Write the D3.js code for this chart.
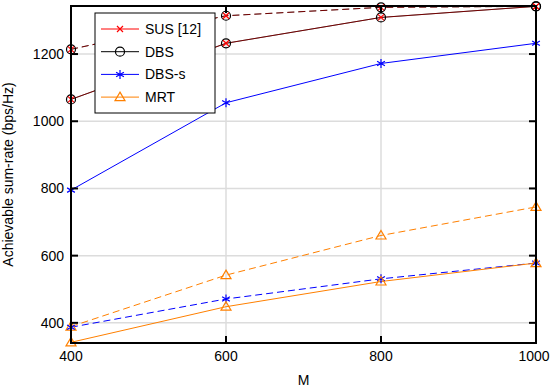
<!DOCTYPE html>
<html>
<head>
<meta charset="utf-8">
<script src="https://cdn.jsdelivr.net/npm/d3@7"></script>
<style>
  body { margin: 0; background: #fff; }
  svg { font-family: "Liberation Sans", Arial, sans-serif; }
</style>
</head>
<body>
<div id="chart"></div>
<script>
// x values (M)
const mValues = [400, 600, 800, 1000];
const xTicks = [400, 600, 800, 1000];
const yTicks = [400, 600, 800, 1000, 1200];

// solid curves
const susSolid = [1065, 1232, 1309, 1342];
const dbsSolid = [1065, 1232, 1309, 1342];
const dbssSolid = [795, 1055, 1172, 1232];
const mrtSolid = [342, 448, 523, 578];

// dashed curves
const susDashed = [1214, 1314, 1339, 1342];
const dbsDashed = [1214, 1314, 1339, 1342];
const dbssDashed = [387, 471, 531, 578];
const mrtDashed = [389, 542, 660, 745];

const legendNames = ['SUS [12]', 'DBS', 'DBS-s', 'MRT'];

const width = 550, height = 388;
const margin = { top: 6, right: 14, bottom: 45, left: 71 };

const svg = d3.select('#chart').append('svg')
    .attr('width', width)
    .attr('height', height);

const x = d3.scaleLinear()
    .domain([400, 1000])
    .range([margin.left, width - margin.right]);

const y = d3.scaleLinear()
    .domain([340, 1343])
    .range([height - margin.bottom, margin.top]);

const red = '#ff0000', blue = '#0000ff', orange = '#ff8000';

// grid
svg.append('g').selectAll('line')
    .data(xTicks.slice(1, -1))
    .enter().append('line')
    .attr('x1', d => x(d)).attr('x2', d => x(d))
    .attr('y1', margin.top).attr('y2', height - margin.bottom)
    .attr('stroke', '#dcdcdc').attr('stroke-width', 1.5);

svg.append('g').selectAll('line')
    .data(yTicks)
    .enter().append('line')
    .attr('x1', margin.left).attr('x2', width - margin.right)
    .attr('y1', d => y(d)).attr('y2', d => y(d))
    .attr('stroke', '#dcdcdc').attr('stroke-width', 1.5);

// markers
function drawMarker(g, type, cx, cy, color) {
    if (type === 'x') {
        const s = 3;
        g.append('path')
            .attr('d', `M${cx - s},${cy - s}L${cx + s},${cy + s}M${cx - s},${cy + s}L${cx + s},${cy - s}`)
            .attr('stroke', color).attr('stroke-width', 1.2).attr('fill', 'none');
    } else if (type === 'o') {
        g.append('circle')
            .attr('cx', cx).attr('cy', cy).attr('r', 4.5)
            .attr('stroke', color).attr('stroke-width', 1.2).attr('fill', 'none');
    } else if (type === '*') {
        const s = 4.5;
        let d = '';
        for (let a = 0; a < 3; a++) {
            const ang = Math.PI / 2 + a * Math.PI / 3;
            d += `M${cx - s * Math.cos(ang)},${cy - s * Math.sin(ang)}L${cx + s * Math.cos(ang)},${cy + s * Math.sin(ang)}`;
        }
        g.append('path').attr('d', d)
            .attr('stroke', color).attr('stroke-width', 1.2).attr('fill', 'none');
    } else if (type === '^') {
        const s = 5;
        g.append('path')
            .attr('d', `M${cx},${cy - s}L${cx + s},${cy + s * 0.7}L${cx - s},${cy + s * 0.7}Z`)
            .attr('stroke', color).attr('stroke-width', 1.2).attr('fill', 'none');
    }
}

const line = d3.line()
    .x((d, i) => x(mValues[i]))
    .y(d => y(d));

const series = [
    { data: mrtDashed, color: orange, dash: '7,4', marker: '^', opacity: 1 },
    { data: dbssDashed, color: blue, dash: '7,4', marker: '*', opacity: 1 },
    { data: mrtSolid, color: orange, dash: null, marker: '^', opacity: 1 },
    { data: dbssSolid, color: blue, dash: null, marker: '*', opacity: 1 },
    { data: dbsDashed, color: '#000', dash: '7,4', marker: 'o', opacity: 1 },
    { data: susDashed, color: red, dash: '7,4', marker: 'x', opacity: 0.45 },
    { data: dbsSolid, color: '#000', dash: null, marker: 'o', opacity: 1 },
    { data: susSolid, color: red, dash: null, marker: 'x', opacity: 0.45 }
];

const plot = svg.append('g');
series.forEach(s => {
    plot.append('path')
        .datum(s.data)
        .attr('d', line)
        .attr('fill', 'none')
        .attr('stroke', s.color)
        .attr('stroke-opacity', s.opacity)
        .attr('stroke-width', 1)
        .attr('stroke-dasharray', s.dash);
});
series.forEach(s => {
    s.data.forEach((v, i) => drawMarker(plot, s.marker, x(mValues[i]), y(v), s.color));
});

// frame + inward ticks
const x0 = margin.left, x1 = width - margin.right;
const y0 = margin.top, y1 = height - margin.bottom;
const tickLen = 7;
const frame = svg.append('g').attr('stroke', '#000').attr('stroke-width', 2);
frame.append('rect')
    .attr('x', x0).attr('y', y0)
    .attr('width', x1 - x0).attr('height', y1 - y0)
    .attr('fill', 'none');
yTicks.forEach(v => {
    frame.append('line').attr('x1', x0).attr('x2', x0 + tickLen).attr('y1', y(v)).attr('y2', y(v));
    frame.append('line').attr('x1', x1).attr('x2', x1 - tickLen).attr('y1', y(v)).attr('y2', y(v));
});
xTicks.forEach(v => {
    frame.append('line').attr('x1', x(v)).attr('x2', x(v)).attr('y1', y1).attr('y2', y1 - tickLen);
    frame.append('line').attr('x1', x(v)).attr('x2', x(v)).attr('y1', y0).attr('y2', y0 + tickLen);
});

// tick labels
svg.append('g').selectAll('text')
    .data(yTicks)
    .enter().append('text')
    .attr('x', x0 - 7)
    .attr('y', d => y(d))
    .attr('dy', '0.35em')
    .attr('text-anchor', 'end')
    .attr('font-size', 14)
    .text(d => d);

svg.append('g').selectAll('text')
    .data(xTicks)
    .enter().append('text')
    .attr('x', d => Math.min(x(d), width - 16))
    .attr('y', y1 + 18)
    .attr('text-anchor', 'middle')
    .attr('font-size', 14)
    .text(d => d);

// axis labels
svg.append('text')
    .attr('x', (x0 + x1) / 2)
    .attr('y', 385)
    .attr('text-anchor', 'middle')
    .attr('font-size', 14)
    .text('M');

svg.append('text')
    .attr('transform', `translate(13,${(y0 + y1) / 2}) rotate(-90)`)
    .attr('text-anchor', 'middle')
    .attr('font-size', 14)
    .text('Achievable sum-rate (bps/Hz)');

// legend
const legendColors = [red, '#000', blue, orange];
const legendMarkers = ['x', 'o', '*', '^'];
const legend = svg.append('g');
legend.append('rect')
    .attr('x', 95).attr('y', 13)
    .attr('width', 120).attr('height', 100)
    .attr('fill', '#fff').attr('stroke', '#000').attr('stroke-width', 1);
legendNames.forEach((name, i) => {
    const ly = 29 + i * 22.7;
    legend.append('line')
        .attr('x1', 101).attr('x2', 139)
        .attr('y1', ly).attr('y2', ly)
        .attr('stroke', legendColors[i]).attr('stroke-width', 1);
    drawMarker(legend, legendMarkers[i], 120, ly, legendColors[i]);
    legend.append('text')
        .attr('x', 145).attr('y', ly)
        .attr('dy', '0.35em')
        .attr('font-size', 14)
        .text(name);
});
</script>
</body>
</html>
